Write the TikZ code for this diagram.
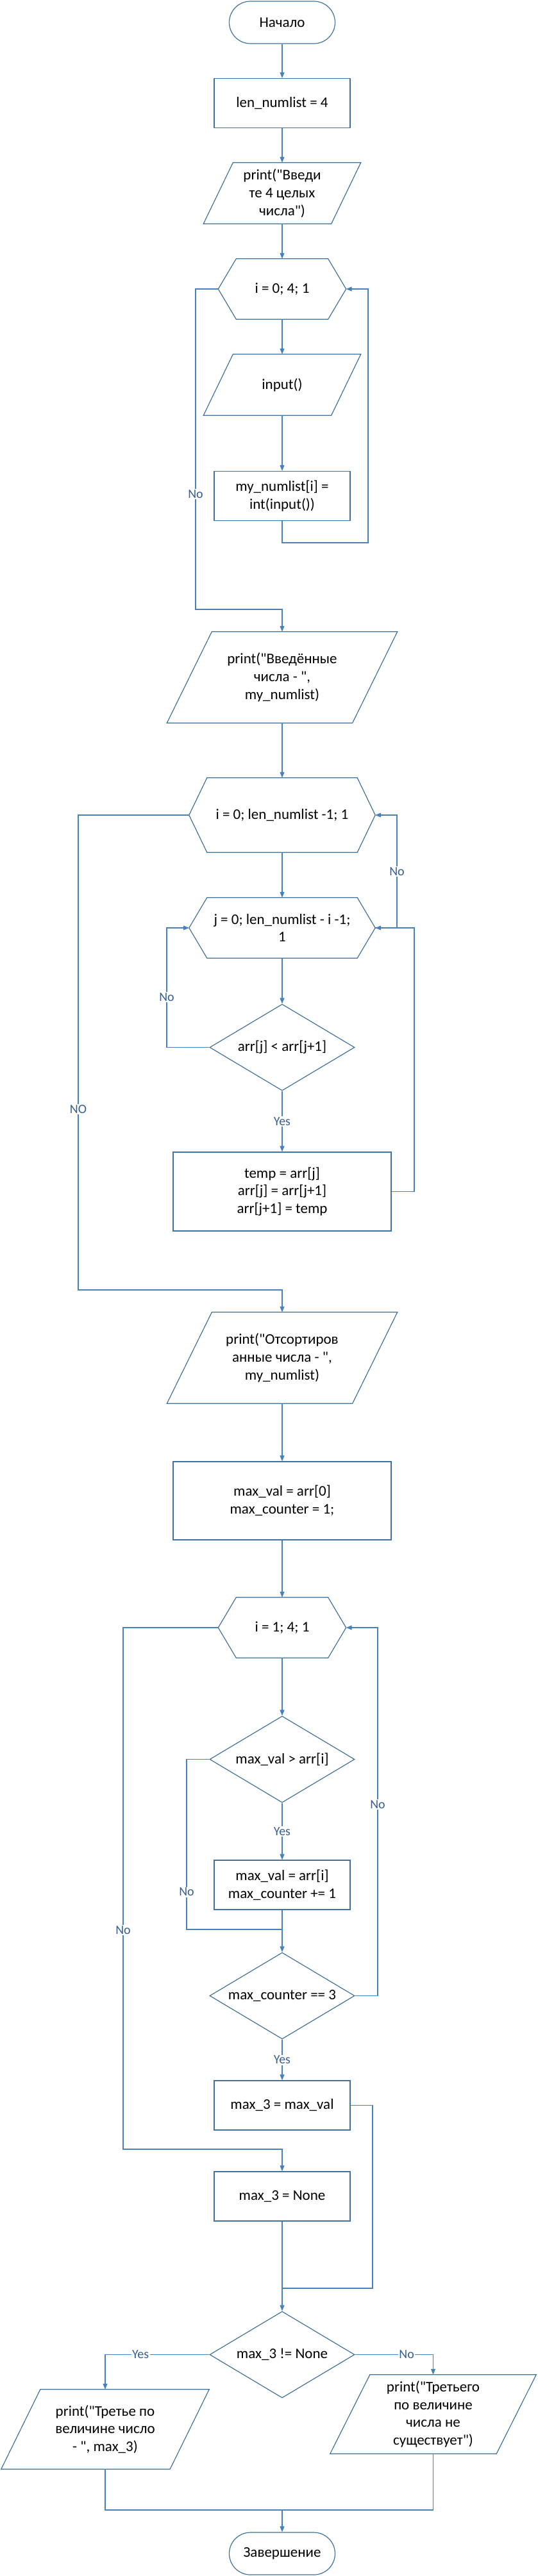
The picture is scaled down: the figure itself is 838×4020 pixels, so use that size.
\documentclass[tikz,border=0pt]{standalone}
\usepackage{fontspec}
\setmainfont{Carlito}[Ligatures=TeXOff]
\usetikzlibrary{shapes.geometric, arrows.meta}
\definecolor{shapeblue}{RGB}{65,113,156}
\definecolor{lineblue}{RGB}{72,128,188}
\definecolor{labelblue}{RGB}{55,96,146}

\begin{document}
\begin{tikzpicture}[x=1pt, y=-1pt, >={Triangle[length=9pt, width=7pt]},
    every node/.style={font=\fontsize{23}{27.7}\selectfont, align=center, inner sep=0pt},
    term/.style={draw=shapeblue, line width=1.2pt, rounded corners=33pt, minimum width=165pt, minimum height=66pt},
    proc/.style={draw=shapeblue, line width=1.2pt},
    cond/.style={diamond, draw=shapeblue, line width=1.2pt, shape aspect=1.67, minimum width=226pt, minimum height=135pt},
    shapeline/.style={draw=shapeblue, line width=1.2pt},
    wire/.style={draw=lineblue, line width=1.2pt},
    flow/.style={wire, ->},
    tag/.style={fill=white, text=labelblue, inner sep=1.5pt, font=\fontsize{20}{24}\selectfont}]

  \fill[white] (0,0) rectangle (838,4020);
  \useasboundingbox (0,0) rectangle (838,4020);

  \node[term] (start) at (440,35) {Начало};
  \node[proc, minimum width=212pt, minimum height=77pt] (lenset) at (440,161) {len\_numlist = 4};
  \node[minimum width=245pt, minimum height=95pt] (askin) at (440,301.5) {print("Введи\\те 4 целых\\числа")};
  \node[minimum width=199pt, minimum height=94pt] (loopa) at (440,451) {i = 0; 4; 1};
  \node[minimum width=245pt, minimum height=95pt] (readin) at (440,600.5) {input()};
  \node[proc, minimum width=212pt, minimum height=77pt] (store) at (440,774) {my\_numlist[i] =\\int(input())};
  \node[minimum width=359pt, minimum height=142pt] (showin) at (440,1057) {print("Введённые\\числа - ",\\my\_numlist)};
  \node[minimum width=290pt, minimum height=116pt] (loopb) at (440,1272) {i = 0; len\_numlist -1; 1};
  \node[minimum width=290pt, minimum height=94pt] (loopc) at (440,1448) {j = 0; len\_numlist - i -1;\\1};
  \node[cond] (cmpa) at (440,1634.5) {arr[j] < arr[j+1]};
  \node[proc, minimum width=340pt, minimum height=123pt] (swap) at (440,1859.5) {temp = arr[j]\\arr[j] = arr[j+1]\\arr[j+1] = temp};
  \node[minimum width=359pt, minimum height=142pt] (showsort) at (440,2119) {print("Отсортиров\\анные числа - ",\\my\_numlist)};
  \node[proc, minimum width=340pt, minimum height=122pt] (initmax) at (440,2342) {max\_val = arr[0]\\max\_counter = 1;};
  \node[minimum width=199pt, minimum height=94pt] (loopd) at (440,2540) {i = 1; 4; 1};
  \node[cond] (cmpb) at (440,2745.5) {max\_val > arr[i]};
  \node[proc, minimum width=212pt, minimum height=77pt] (upd) at (440,2941.5) {max\_val = arr[i]\\max\_counter += 1};
  \node[cond] (cmpc) at (440,3114.5) {max\_counter == 3};
  \node[proc, minimum width=212pt, minimum height=77pt] (setmax) at (440,3285.5) {max\_3 = max\_val};
  \node[proc, minimum width=212pt, minimum height=77pt] (setnone) at (440,3427.5) {max\_3 = None};
  \node[cond] (cmpd) at (440,3674.5) {max\_3 != None};
  \node[minimum width=324pt, minimum height=124pt] (outyes) at (164,3791) {print("Третье по\\величине число\\- ", max\_3)};
  \node[minimum width=321pt, minimum height=123pt] (outno) at (675.5,3767.5) {print("Третьего\\по величине\\числа не\\существует")};
  \node[term] (stop) at (440,3985) {Завершение};

  \foreach \h in {loopa, loopb, loopc, loopd} {
    \draw[shapeline] ([xshift=28]\h.north west) -- ([xshift=-28]\h.north east) -- (\h.east)
      -- ([xshift=-28]\h.south east) -- ([xshift=28]\h.south west) -- (\h.west) -- cycle;
  }
  \foreach \p/\s in {askin/46, readin/46, showin/70, showsort/70, outyes/61, outno/62} {
    \draw[shapeline] ([xshift=\s]\p.north west) -- (\p.north east)
      -- ([xshift=-\s]\p.south east) -- (\p.south west) -- cycle;
  }

  \coordinate (backa) at (574,847);
  \coordinate (exita) at (305,951);
  \coordinate (backb) at (619,1448);
  \coordinate (backc) at (646,1448);
  \coordinate (noc) at (260,1448);
  \coordinate (exitb) at (122,2013);
  \coordinate (skipb) at (291,3011);
  \coordinate (joinb) at (440,3011);
  \coordinate (backd) at (589,3114.5);
  \coordinate (exitd) at (192,3354);
  \coordinate (skipc) at (581,3571);
  \coordinate (joinc) at (440,3571);
  \coordinate (joind) at (440,3917);

  \draw[flow] (start) -- (lenset);
  \draw[flow] (lenset) -- (askin);
  \draw[flow] (askin) -- (loopa);
  \draw[flow] (loopa) -- (readin);
  \draw[flow] (readin) -- (store);
  \draw[flow] (store.south) |- (backa) |- (loopa.east);
  \draw[flow] (loopa.west) -| node[tag, pos=0.82] {No} (exita) -| (showin.north);

  \draw[flow] (showin) -- (loopb);
  \draw[flow] (loopb) -- (loopc);
  \draw[flow] (loopc) -- (cmpa);
  \draw[flow] (cmpa) -- node[tag] {Yes} (swap);
  \draw[flow] (cmpa.west) -| node[tag, pos=0.71] {No} (noc) -- (loopc.west);
  \draw[flow] (swap.east) -| (backc) -- (loopc.east);
  \draw[flow] (loopc.east) -- (backb) |- node[tag, pos=0.25] {No} (loopb.east);
  \draw[flow] (loopb.west) -| node[tag, pos=0.81] {NO} (exitb) -| (showsort.north);

  \draw[flow] (showsort) -- (initmax);
  \draw[flow] (initmax) -- (loopd);
  \draw[flow] (loopd) -- (cmpb);
  \draw[flow] (cmpb) -- node[tag] {Yes} (upd);
  \draw[wire] (cmpb.west) -| node[tag, pos=0.89] {No} (skipb) -- (joinb);
  \draw[flow] (upd) -- (cmpc);
  \draw[flow] (cmpc) -- node[tag] {Yes} (setmax);
  \draw[flow] (cmpc.east) -- (backd) |- node[tag, pos=0.26] {No} (loopd.east);
  \draw[flow] (loopd.west) -| node[tag, pos=0.79] {No} (exitd) -| (setnone.north);

  \draw[flow] (setnone) -- (cmpd);
  \draw[wire] (setmax.east) -| (skipc) -- (joinc);
  \draw[flow] (cmpd.west) -| node[tag, pos=0.33] {Yes} (outyes.north);
  \draw[flow] (cmpd.east) -| node[tag, pos=0.33] {No} (outno.north);
  \draw[wire] (outyes.south) |- (joind);
  \draw[wire] (outno.south) |- (joind);
  \draw[flow] (joind) -- (stop);
\end{tikzpicture}
\end{document}
